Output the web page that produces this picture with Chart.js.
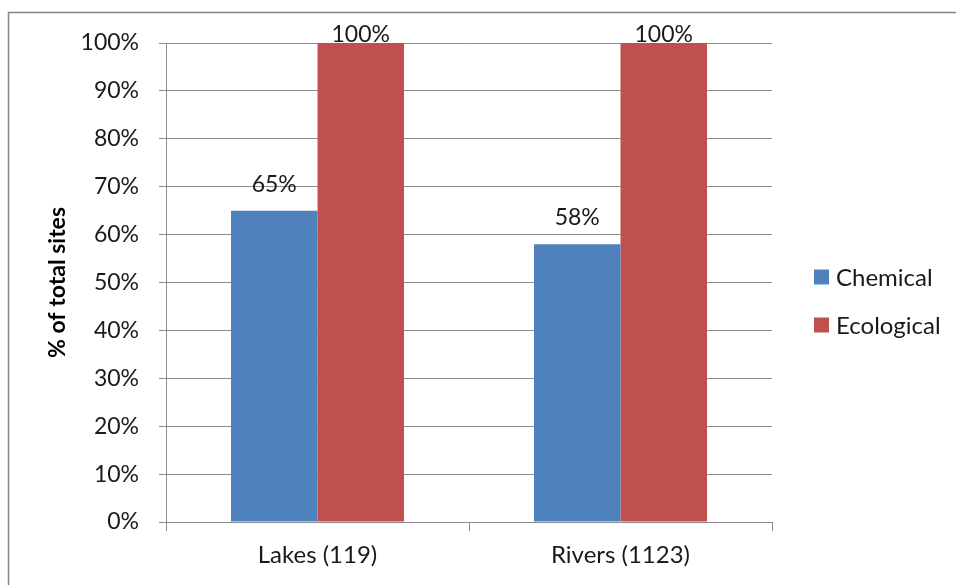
<!DOCTYPE html>
<html>
<head>
<meta charset="utf-8">
<script src="https://cdn.jsdelivr.net/npm/chart.js@4"></script>
<style>
  html, body { margin: 0; padding: 0; background: #fff; }
  #wrap { width: 956px; height: 585px; position: relative; }
</style>
</head>
<body>
<div id="wrap"><canvas id="c" width="956" height="585"></canvas></div>
<script>
// Share of sites failing each status assessment
const categories = ['Lakes (119)', 'Rivers (1123)'];
const seriesNames = ['Chemical', 'Ecological'];
const chemical = [65, 58];
const ecological = [100, 100];
const yTicks = [0, 10, 20, 30, 40, 50, 60, 70, 80, 90, 100];

const BLUE = '#4F81BD';
const RED = '#C0504D';
const GRID = '#8c8c8c';
const TEXT = '#1a1a1a';
const FONT = 'Lato, "Open Sans", sans-serif';

// outer frame around the chart
const framePlugin = {
  id: 'frame',
  beforeDraw(chart) {
    const ctx = chart.ctx;
    ctx.save();
    ctx.fillStyle = '#fff';
    ctx.fillRect(0, 0, chart.width, chart.height);
    ctx.strokeStyle = '#858585';
    ctx.lineWidth = 1.5;
    ctx.strokeRect(8.5, 12.5, 1200, 1200);
    ctx.restore();
  }
};

// value labels above each bar, kept inside the top of the plot
const valueLabels = {
  id: 'valueLabels',
  afterDatasetsDraw(chart) {
    const ctx = chart.ctx;
    ctx.save();
    ctx.font = '23px ' + FONT;
    ctx.fillStyle = TEXT;
    ctx.textAlign = 'center';
    ctx.textBaseline = 'alphabetic';
    chart.data.datasets.forEach((ds, i) => {
      chart.getDatasetMeta(i).data.forEach((bar, j) => {
        const y = Math.max(bar.y - 19, chart.chartArea.top - 1);
        ctx.fillText(ds.data[j] + '%', bar.x, y);
      });
    });
    ctx.restore();
  }
};

// legend on the right, one row per series
const sideLegend = {
  id: 'sideLegend',
  afterDraw(chart) {
    const ctx = chart.ctx;
    ctx.save();
    ctx.font = '24px ' + FONT;
    ctx.textBaseline = 'middle';
    ctx.textAlign = 'left';
    const rows = [277, 325];
    chart.data.datasets.forEach((ds, i) => {
      const y = rows[i];
      ctx.fillStyle = ds.backgroundColor;
      ctx.fillRect(814, y - 7.5, 15, 15);
      ctx.fillStyle = TEXT;
      ctx.fillText(ds.label, 836, y + 1);
    });
    ctx.restore();
  }
};

new Chart(document.getElementById('c'), {
  type: 'bar',
  data: {
    labels: categories,
    datasets: [
      { label: seriesNames[0], data: chemical, backgroundColor: BLUE },
      { label: seriesNames[1], data: ecological, backgroundColor: RED }
    ]
  },
  options: {
    responsive: false,
    animation: false,
    devicePixelRatio: 1,
    layout: { padding: { left: 0, top: 43, right: 184, bottom: 0 } },
    datasets: { bar: { categoryPercentage: 0.571, barPercentage: 1.0 } },
    plugins: { legend: { display: false }, tooltip: { enabled: false } },
    scales: {
      x: {
        offset: true,
        afterFit(s) { s.height = 63; },
        grid: { offset: true, drawOnChartArea: false, drawTicks: true, tickLength: 9, color: GRID },
        border: { color: GRID, width: 1 },
        ticks: { color: TEXT, font: { family: FONT, size: 24 }, padding: 10, maxRotation: 0 }
      },
      y: {
        min: 0, max: 100,
        afterFit(s) { s.width = 166; },
        afterBuildTicks(s) { s.ticks = yTicks.map(v => ({ value: v })); },
        grid: { color: GRID, tickLength: 7, drawTicks: true },
        border: { color: GRID, width: 1 },
        ticks: { color: TEXT, font: { family: FONT, size: 23 }, padding: 20, callback: v => v + '%' },
        title: {
          display: true, text: '% of total sites', color: '#000',
          font: { family: FONT, size: 23, weight: 'bold', lineHeight: 1.2 },
          padding: { top: 44, bottom: 0 }
        }
      }
    }
  },
  plugins: [framePlugin, valueLabels, sideLegend]
});
</script>
</body>
</html>
